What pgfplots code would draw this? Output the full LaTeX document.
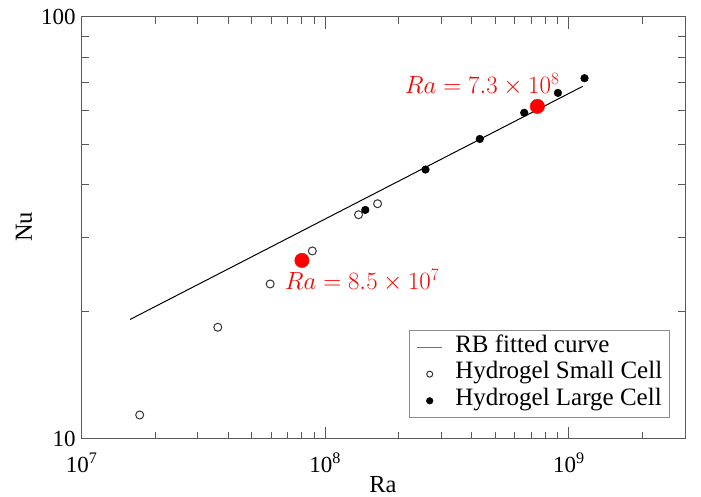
\documentclass[border=0pt]{standalone}
\usepackage{fontspec}
\setmainfont{Liberation Serif}
\usepackage{pgfplots}
\pgfplotsset{compat=1.18}
\pgfplotsset{
  leg line/.style={legend image code/.code={\draw[black!55, line width=1pt] (0pt,0pt) -- (25pt,0pt);}},
  leg mark/.style={legend image code/.code={\draw[##1, mark size=#1] plot coordinates {(12.5pt,0pt)};}},
}

\begin{document}
\begin{tikzpicture}
\begin{axis}[
  at={(81.7pt,58pt)}, anchor=south west,
  scale only axis, width=603.3pt, height=422pt,
  xmode=log, ymode=log,
  xmin=1e7, xmax=3e9, ymin=10, ymax=100,
  xtick={1e7,1e8,1e9},
  xticklabels={10\textsuperscript{7},10\textsuperscript{8},10\textsuperscript{9}},
  minor xtick={2e7,3e7,4e7,5e7,6e7,7e7,8e7,9e7,2e8,3e8,4e8,5e8,6e8,7e8,8e8,9e8,2e9,3e9},
  ytick={10,100}, yticklabels={10,100},
  minor ytick={20,30,40,50,60,70,80,90},
  tick align=inside,
  major tick length=12pt, minor tick length=7pt,
  every tick/.style={black!65, line width=1pt},
  axis line style={black!65, line width=1pt},
  ticklabel style={font=\fontsize{23}{26}\selectfont},
  xticklabel style={anchor=base, yshift=-33.7pt},
  yticklabel style={anchor=east, inner sep=0pt, xshift=-6pt},
  xlabel={Ra}, ylabel={Nu},
  label style={font=\fontsize{24.5}{28}\selectfont, inner sep=0pt},
  xlabel style={at={(axis description cs:0.4994,-0.1090)}, anchor=center},
  ylabel style={at={(axis description cs:-0.0956,0.503)}, anchor=center},
  legend cell align=left,
  legend style={at={(axis description cs:0.5425,0.2583)}, anchor=north west,
    draw=black!45, line width=1pt,
    font=\fontsize{25}{28}\selectfont,
    inner xsep=7.2pt, inner ysep=3.7pt,
    column sep=12.6pt, row sep=0pt,
    nodes={inner sep=0pt, text height=18pt, text depth=8.65pt}},
]
% fitted curve
\addplot[black, line width=1pt, leg line]
  coordinates {(1.58e7,19.2) (1.14e9,68.5)};
\addlegendentry{RB fitted curve}
% small cell
\addplot[only marks, mark=*, mark size=4pt,
  mark options={fill=white, draw=black!80, line width=1pt}, leg mark=3pt]
  coordinates {(1.73e7,11.4) (3.62e7,18.4) (5.94e7,23.3) (8.85e7,27.9) (1.37e8,34.0) (1.64e8,36.1)};
\addlegendentry{Hydrogel Small Cell}
% large cell
\addplot[only marks, mark=*, mark size=3.8pt,
  mark options={fill=black, draw=black, line width=0.5pt}, leg mark=3.3pt]
  coordinates {(1.46e8,34.9) (2.58e8,43.5) (4.31e8,51.4) (6.56e8,59.3) (9.02e8,66.1) (1.16e9,71.6)};
\addlegendentry{Hydrogel Large Cell}
% highlighted points
\addplot[only marks, mark=*, mark size=7.2pt, color=red, forget plot]
  coordinates {(7.43e8,61.4) (8.02e7,26.5)};
\node[red, anchor=base, font=\fontsize{25}{28}\selectfont] at (axis cs:4.41e8,65.95) {$Ra = 7.3\times10^{8}$};
\node[red, anchor=base, font=\fontsize{25}{28}\selectfont] at (axis cs:1.416e8,22.55) {$Ra = 8.5\times10^{7}$};
\end{axis}
\pgfresetboundingbox
\useasboundingbox (0,0) rectangle (701pt,497pt);
\end{tikzpicture}
\end{document}
